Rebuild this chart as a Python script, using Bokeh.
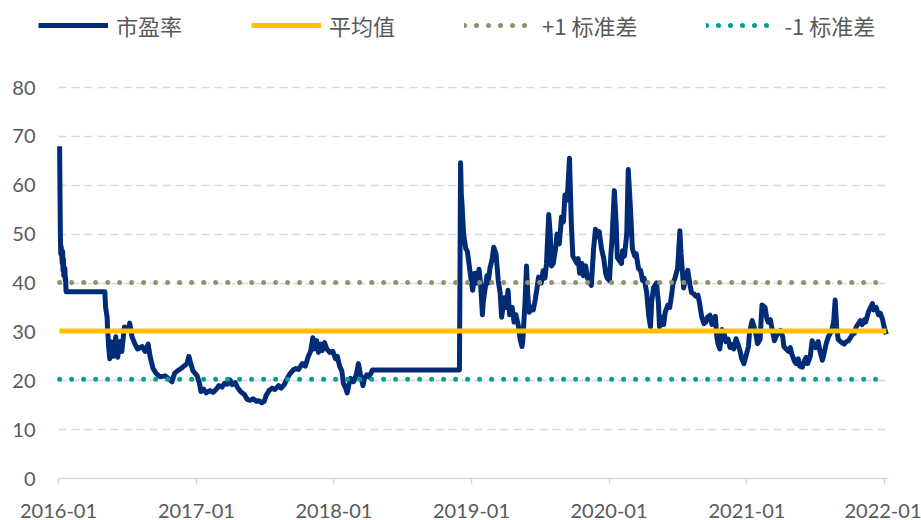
import pandas as pd
from bokeh.plotting import figure
from bokeh.models import (FixedTicker, DatetimeTickFormatter, Legend, LegendItem,
                          ColumnDataSource, Range1d)
from bokeh.embed import file_html
from bokeh.resources import INLINE

# ---------------- data ----------------
dates = [
    "2016-01-04", "2016-01-05", "2016-01-06", "2016-01-07", "2016-01-08", "2016-01-11", "2016-01-12",
    "2016-01-13", "2016-01-14", "2016-01-15", "2016-01-18", "2016-01-19", "2016-01-20", "2016-01-21",
    "2016-05-03", "2016-05-05", "2016-05-09", "2016-05-10", "2016-05-13", "2016-05-16", "2016-05-20",
    "2016-05-25", "2016-06-01", "2016-06-06", "2016-06-13", "2016-06-17", "2016-06-24", "2016-07-04",
    "2016-07-08", "2016-07-14", "2016-07-22", "2016-07-29", "2016-08-10", "2016-08-18", "2016-08-26",
    "2016-08-31", "2016-09-08", "2016-09-16", "2016-09-27", "2016-10-10", "2016-10-18", "2016-10-28",
    "2016-11-04", "2016-11-11", "2016-11-21", "2016-11-29", "2016-12-07", "2016-12-12", "2016-12-16",
    "2016-12-23", "2017-01-03",
    "2017-01-09", "2017-01-13", "2017-01-20", "2017-01-27", "2017-02-06", "2017-02-14", "2017-02-22",
    "2017-03-02", "2017-03-10", "2017-03-17", "2017-03-24", "2017-03-31", "2017-04-06", "2017-04-14",
    "2017-04-21", "2017-04-28", "2017-05-08", "2017-05-16", "2017-05-24", "2017-06-01", "2017-06-09",
    "2017-06-16", "2017-06-23", "2017-06-30", "2017-07-05", "2017-07-13", "2017-07-21", "2017-07-28",
    "2017-08-07", "2017-08-14", "2017-08-22", "2017-08-30", "2017-09-07", "2017-09-15", "2017-09-22",
    "2017-09-29", "2017-10-09", "2017-10-17", "2017-10-25", "2017-10-31", "2017-11-06", "2017-11-10",
    "2017-11-16", "2017-11-21", "2017-11-27", "2017-12-01", "2017-12-07", "2017-12-13", "2017-12-21",
    "2017-12-29",
    "2018-01-05", "2018-01-10", "2018-01-16", "2018-01-22", "2018-01-26", "2018-02-01", "2018-02-05",
    "2018-02-09", "2018-02-14", "2018-02-22", "2018-02-26", "2018-03-02", "2018-03-07", "2018-03-13",
    "2018-03-19", "2018-03-23", "2018-03-29", "2018-04-03", "2018-04-09", "2018-04-13", "2018-11-30",
    "2018-12-03", "2018-12-05", "2018-12-07", "2018-12-11", "2018-12-17", "2018-12-21", "2018-12-27",
    "2019-01-02", "2019-01-04", "2019-01-10", "2019-01-15", "2019-01-21", "2019-01-25", "2019-01-30",
    "2019-02-01", "2019-02-11", "2019-02-14", "2019-02-19", "2019-02-25", "2019-03-01", "2019-03-07",
    "2019-03-13", "2019-03-18", "2019-03-22", "2019-03-29", "2019-04-03", "2019-04-08", "2019-04-12",
    "2019-04-19", "2019-04-24", "2019-04-29", "2019-05-06", "2019-05-10", "2019-05-15", "2019-05-17",
    "2019-05-23", "2019-05-27", "2019-05-30", "2019-06-03", "2019-06-10", "2019-06-14", "2019-06-19",
    "2019-06-24", "2019-06-28", "2019-07-05", "2019-07-10", "2019-07-15", "2019-07-19", "2019-07-25",
    "2019-07-29", "2019-08-01", "2019-08-06", "2019-08-12", "2019-08-16", "2019-08-22", "2019-08-28",
    "2019-09-02", "2019-09-06", "2019-09-12", "2019-09-18", "2019-09-23", "2019-09-27", "2019-10-08",
    "2019-10-11", "2019-10-15", "2019-10-21", "2019-10-25", "2019-10-31", "2019-11-05", "2019-11-11",
    "2019-11-15", "2019-11-21", "2019-11-26", "2019-12-02", "2019-12-06", "2019-12-12", "2019-12-18",
    "2019-12-23", "2019-12-27",
    "2020-01-02", "2020-01-06", "2020-01-09", "2020-01-15", "2020-01-20", "2020-01-23", "2020-02-03",
    "2020-02-06", "2020-02-11", "2020-02-17", "2020-02-21", "2020-02-27", "2020-03-03", "2020-03-09",
    "2020-03-13", "2020-03-19", "2020-03-25", "2020-03-30", "2020-04-03", "2020-04-10", "2020-04-15",
    "2020-04-20", "2020-04-23", "2020-04-28", "2020-05-06", "2020-05-11", "2020-05-14", "2020-05-20",
    "2020-05-25", "2020-05-29", "2020-06-05", "2020-06-10", "2020-06-15", "2020-06-19", "2020-06-24",
    "2020-07-01", "2020-07-07", "2020-07-10", "2020-07-17", "2020-07-23", "2020-07-28", "2020-08-03",
    "2020-08-07", "2020-08-13", "2020-08-18", "2020-08-24", "2020-08-28", "2020-09-03", "2020-09-09",
    "2020-09-14", "2020-09-18", "2020-09-25", "2020-09-30", "2020-10-09", "2020-10-13", "2020-10-16",
    "2020-10-21", "2020-10-27", "2020-11-02", "2020-11-06", "2020-11-12", "2020-11-17", "2020-11-20",
    "2020-11-27", "2020-12-03", "2020-12-08", "2020-12-14", "2020-12-18", "2020-12-24", "2020-12-29",
    "2021-01-05", "2021-01-08", "2021-01-15", "2021-01-20", "2021-01-26", "2021-01-29", "2021-02-05",
    "2021-02-08", "2021-02-10", "2021-02-18", "2021-02-22", "2021-02-26", "2021-03-04", "2021-03-09",
    "2021-03-15", "2021-03-19", "2021-03-25", "2021-03-31", "2021-04-06", "2021-04-09", "2021-04-15",
    "2021-04-21", "2021-04-26", "2021-04-30", "2021-05-07", "2021-05-12", "2021-05-17", "2021-05-21",
    "2021-05-28", "2021-06-02", "2021-06-07", "2021-06-11", "2021-06-18", "2021-06-23", "2021-06-29",
    "2021-07-02", "2021-07-09", "2021-07-14", "2021-07-20", "2021-07-23", "2021-07-30", "2021-08-05",
    "2021-08-10", "2021-08-13", "2021-08-19", "2021-08-23", "2021-08-27", "2021-08-31", "2021-09-06",
    "2021-09-10", "2021-09-16", "2021-09-22", "2021-09-27", "2021-09-30", "2021-10-08", "2021-10-13",
    "2021-10-18", "2021-10-22", "2021-10-29", "2021-11-03", "2021-11-09", "2021-11-12", "2021-11-19",
    "2021-11-25", "2021-11-30", "2021-12-03", "2021-12-10", "2021-12-16", "2021-12-21", "2021-12-27",
    "2021-12-31", "2022-01-06",
]
pe = [
    68.0, 58, 50, 46, 47.5, 44, 46.5,
    42.5, 45, 41.5, 43, 40.5, 41, 38.2,
    38.2, 35, 33, 31, 27, 24.5, 28,
    25, 29, 24.8, 28, 26, 31, 30.5,
    31.8, 29, 27.5, 26.5, 27, 26, 27.5,
    25, 22.5, 21.5, 20.8, 21, 20.5, 19.8,
    21.5, 22, 22.5, 23, 23.5, 25, 23.8,
    22, 21,
    19.5, 17.8, 18.3, 17.5, 18, 17.6, 18.2,
    19, 18.7, 19.5, 19.3, 20.2, 19.2, 19.6,
    18.5, 17.8, 17.2, 16.2, 16.0, 16.3, 15.8,
    15.9, 15.5, 15.8, 17, 18, 18.5, 18.2,
    19, 18.5, 19.2, 20.5, 21.5, 22.2, 22.5,
    22.3, 23.5, 23, 25, 26, 28.8, 26.5,
    28.2, 25.8, 27.5, 26.2, 27.8, 26.5, 25.8,
    26.0,
    24.5, 25, 23, 22, 19.5, 18.5, 17.5,
    19, 20.5, 19.8, 20.5, 21.5, 23.5, 21,
    19, 20.5, 21.2, 20.8, 21.5, 22.2, 22.2,
    64.6, 58, 56, 50, 47, 46.5, 43,
    39.5, 38.5, 42, 40, 42.8, 40, 33.5,
    36, 41.5, 40, 43, 45, 47.3, 46,
    40.5, 38, 33, 37, 35, 38.5, 33.5,
    35, 32, 33.5, 31, 28.5, 27, 28,
    36, 43.5, 38, 34, 35, 34.5, 36.5,
    39, 41.2, 40, 42.5, 41, 44, 54,
    50, 43.5, 44, 47, 50, 48, 53.5,
    52.5, 58, 57, 65.5, 52, 45.5, 44,
    45, 42, 44, 41.5, 43.5, 41, 40,
    39.5, 47, 51, 49.5, 50.5, 47, 45,
    42, 41,
    40.5, 46, 49, 58.9, 52, 45.2, 44,
    46.6, 45.5, 50, 63.2, 55, 47, 45.5,
    46, 43, 42.5, 40.5, 41, 38, 33.5,
    31, 36, 39, 40, 36, 31, 33,
    31.5, 34, 35.5, 35, 37.5, 40, 41,
    43, 50.7, 46, 39, 41.5, 42.6, 39.5,
    38, 37.8, 37.3, 37.5, 36, 33, 31.7,
    32, 33, 33.4, 31.5, 33.2, 29, 27.6,
    26.5, 30.5, 29.5, 28, 28.5, 26.8, 27.5,
    26.5, 28.6, 27.5, 26, 24.5, 23.5, 25,
    27, 30, 32.3, 31, 29, 27.6, 28.5,
    33, 35.5, 35, 33, 32, 32.5, 30.5,
    28.2, 29, 30, 30.3, 29, 27, 26.5,
    26, 26.8, 25.5, 24, 23.5, 24.5, 23,
    22.8, 24, 24.8, 23.5, 25, 28.2, 27,
    26.8, 28, 26, 24.2, 25, 27.5, 29,
    29.7, 30, 32, 36.5, 31, 28.5, 28,
    27.8, 27.5, 28, 28.2, 28.5, 29.5, 29.7,
    31, 31.5, 32.3, 31.5, 32.5, 32, 34,
    35, 35.8, 34.5, 35, 33.5, 33.8, 32.5,
    31, 29.5,
]
mean_pe = 30.2
plus_std = 40.1
minus_std = 20.3
x_tick_labels = ["2016-01", "2017-01", "2018-01", "2019-01", "2020-01", "2021-01", "2022-01"]
y_ticks = [0, 10, 20, 30, 40, 50, 60, 70, 80]
series_names = ["市盈率", "平均值", "+1 标准差", "-1 标准差"]

# ---------------- figure geometry ----------------
W, H = 921, 520
axis_start = pd.Timestamp("2016-01-01")
axis_end = pd.Timestamp("2022-01-12")
# the frame fills the whole canvas (so legend / axis labels are never clipped);
# the visible value axis spans 0..80, the date axis is pinned at y = 0
px_per_day = 826 / 2192.0
left_px = 58
view_start = axis_start - pd.Timedelta(days=left_px / px_per_day)
view_end = axis_start + pd.Timedelta(days=(W - left_px) / px_per_day)
px_per_unit = 391 / 80
y_view_top = 478 / px_per_unit
y_view_bottom = -(H - 478) / px_per_unit

dt = pd.to_datetime(dates)
src = ColumnDataSource(dict(x=dt, y=pe))
span_x = [dt[0], dt[-1]]

p = figure(width=W, height=H, x_axis_type="datetime",
           output_backend="svg", toolbar_location=None,
           x_range=Range1d(view_start, view_end),
           y_range=Range1d(y_view_bottom, y_view_top),
           min_border_left=0, min_border_right=0, min_border_top=0, min_border_bottom=0)
p.outline_line_color = None
p.background_fill_color = "white"

NAVY = "#002C77"
GOLD = "#FFC000"
OLIVE = "#968F6E"
TEAL = "#009E96"
TXT = "#595959"
GRID = "#D9D9D9"

r_pe = p.line("x", "y", source=src, line_color=NAVY, line_width=5, line_join="round")
r_up = p.line(span_x, [plus_std, plus_std], line_color=OLIVE, line_width=5,
              line_dash="0 12", line_cap="round")
r_dn = p.line(span_x, [minus_std, minus_std], line_color=TEAL, line_width=5,
              line_dash="0 12", line_cap="round")
r_mean = p.line(span_x, [mean_pe, mean_pe], line_color=GOLD, line_width=5)

# axes
start_ms = axis_start.value // 10**6
end_ms = axis_end.value // 10**6
x_ticks = [pd.Timestamp(s + "-01").value // 10**6 for s in x_tick_labels]
p.xaxis.fixed_location = 0
p.xaxis.ticker = FixedTicker(ticks=x_ticks)
p.xaxis.bounds = (start_ms, end_ms)
fmt = "%Y-%m"
p.xaxis.formatter = DatetimeTickFormatter(years=fmt, months=fmt, days=fmt, hours=fmt,
                                          minutes=fmt, seconds=fmt, milliseconds=fmt,
                                          microseconds=fmt, hourmin=fmt, minsec=fmt)
p.xaxis.axis_line_color = GRID
p.xaxis.axis_line_width = 1.5
p.xaxis.major_tick_line_color = GRID
p.xaxis.major_tick_line_width = 1.5
p.xaxis.major_tick_out = 6
p.xaxis.major_tick_in = 0
p.xaxis.minor_tick_line_color = None
p.xaxis.major_label_standoff = 19
p.xaxis.major_label_text_font = "Lato"
p.xaxis.major_label_text_font_size = "20px"
p.xaxis.major_label_text_color = TXT

p.yaxis.fixed_location = start_ms
p.yaxis.ticker = FixedTicker(ticks=y_ticks)
p.yaxis.bounds = (0, 80)
p.yaxis.axis_line_color = None
p.yaxis.major_tick_line_color = None
p.yaxis.minor_tick_line_color = None
p.yaxis.major_tick_out = 0
p.yaxis.major_tick_in = 0
p.yaxis.major_label_standoff = 23
p.yaxis.major_label_text_font = "Lato"
p.yaxis.major_label_text_font_size = "20px"
p.yaxis.major_label_text_color = TXT

p.xgrid.visible = False
p.ygrid.ticker = FixedTicker(ticks=y_ticks[1:])
p.ygrid.bounds = (10, 80)
p.ygrid.cross_bounds = (start_ms, end_ms)
p.ygrid.grid_line_color = GRID
p.ygrid.grid_line_width = 1.3
p.ygrid.grid_line_dash = "8 5"

legend = Legend(items=[LegendItem(label=series_names[0], renderers=[r_pe]),
                       LegendItem(label=series_names[1], renderers=[r_mean]),
                       LegendItem(label=series_names[2], renderers=[r_up]),
                       LegendItem(label=series_names[3], renderers=[r_dn])],
                orientation="horizontal", location=(38, 479),
                padding=0, margin=0, spacing=69, glyph_width=70, glyph_height=24,
                label_standoff=8, label_text_font="Noto Sans CJK SC",
                label_text_font_size="22px", label_text_color=TXT,
                border_line_color=None, background_fill_alpha=0)
p.add_layout(legend)

open("out.html", "w").write(file_html(p, INLINE))
